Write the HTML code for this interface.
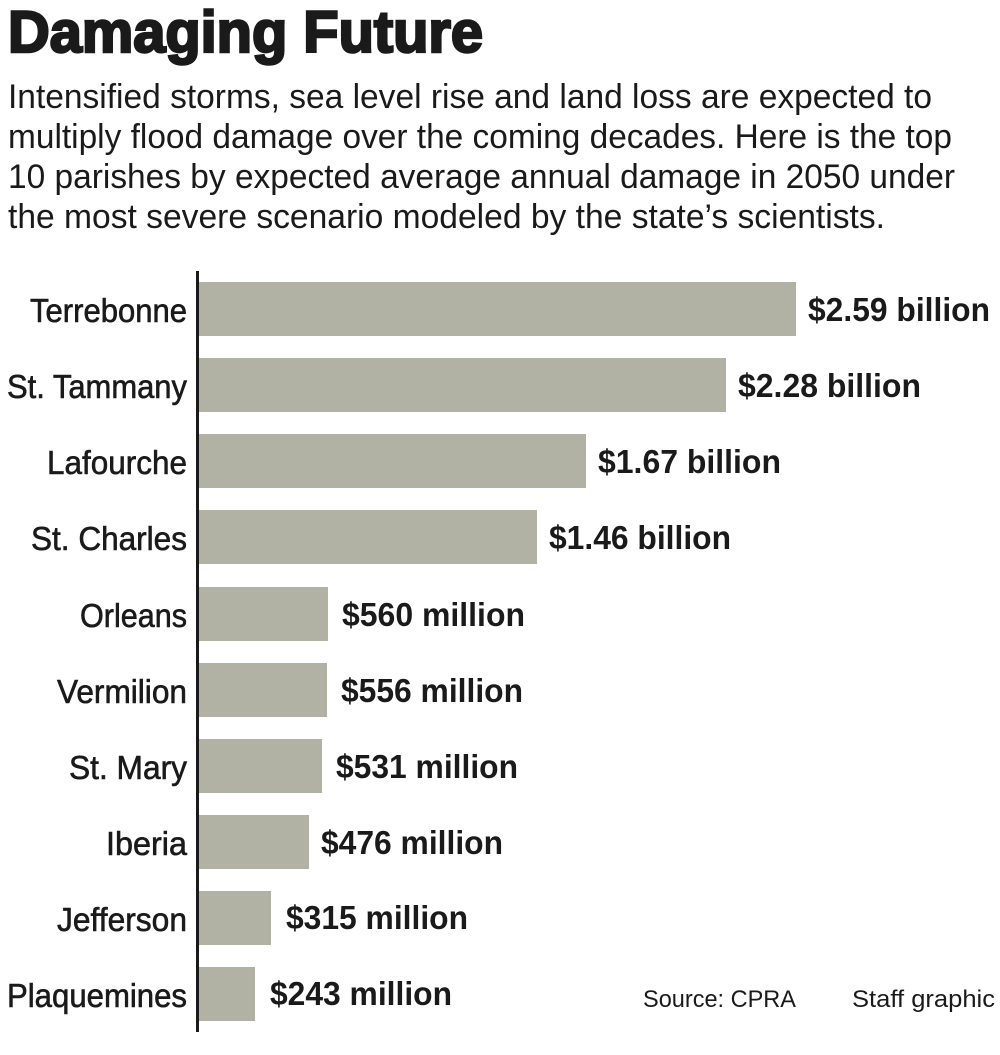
<!DOCTYPE html>
<html><head><meta charset="utf-8"><style>html,body{margin:0;padding:0;background:#fff}svg{display:block}</style></head>
<body>
<svg width="1000" height="1055" xmlns="http://www.w3.org/2000/svg" font-family="Liberation Sans, sans-serif" fill="#1a1a1a">
<text x="8" y="52" font-size="58" font-weight="bold" textLength="475" lengthAdjust="spacingAndGlyphs" stroke="#1a1a1a" stroke-width="2.5">Damaging Future</text>
<g font-size="34">
<text x="8" y="108" textLength="924" lengthAdjust="spacingAndGlyphs">Intensified storms, sea level rise and land loss are expected to</text>
<text x="8" y="148" textLength="944" lengthAdjust="spacingAndGlyphs">multiply flood damage over the coming decades. Here is the top</text>
<text x="8" y="188" textLength="947" lengthAdjust="spacingAndGlyphs">10 parishes by expected average annual damage in 2050 under</text>
<text x="8" y="228" textLength="877" lengthAdjust="spacingAndGlyphs">the most severe scenario modeled by the state’s scientists.</text>
</g>
<g fill="#b1b2a4">
<rect x="199" y="282" width="597" height="54"/>
<rect x="199" y="358" width="527" height="54"/>
<rect x="199" y="434" width="387" height="54"/>
<rect x="199" y="510" width="338" height="54"/>
<rect x="199" y="587" width="129" height="54"/>
<rect x="199" y="663" width="128" height="54"/>
<rect x="199" y="739" width="123" height="54"/>
<rect x="199" y="815" width="110" height="54"/>
<rect x="199" y="891" width="72" height="54"/>
<rect x="199" y="967" width="56" height="54"/>
</g>
<rect x="196" y="271" width="3" height="761" fill="#1a1a1a"/>
<g font-size="33" text-anchor="end" stroke="#1a1a1a" stroke-width="0.6" lengthAdjust="spacingAndGlyphs">
<text x="187" y="322" textLength="157" lengthAdjust="spacingAndGlyphs">Terrebonne</text>
<text x="187" y="398" textLength="180" lengthAdjust="spacingAndGlyphs">St. Tammany</text>
<text x="187" y="474" textLength="140" lengthAdjust="spacingAndGlyphs">Lafourche</text>
<text x="187" y="550" textLength="156" lengthAdjust="spacingAndGlyphs">St. Charles</text>
<text x="187" y="627" textLength="107" lengthAdjust="spacingAndGlyphs">Orleans</text>
<text x="187" y="703" textLength="130" lengthAdjust="spacingAndGlyphs">Vermilion</text>
<text x="187" y="779" textLength="118" lengthAdjust="spacingAndGlyphs">St. Mary</text>
<text x="187" y="855" textLength="81" lengthAdjust="spacingAndGlyphs">Iberia</text>
<text x="187" y="931" textLength="130" lengthAdjust="spacingAndGlyphs">Jefferson</text>
<text x="187" y="1007" textLength="180" lengthAdjust="spacingAndGlyphs">Plaquemines</text>
</g>
<g font-size="33" font-weight="bold">
<text x="808" y="321" textLength="182" lengthAdjust="spacingAndGlyphs">$2.59 billion</text>
<text x="738" y="397" textLength="183" lengthAdjust="spacingAndGlyphs">$2.28 billion</text>
<text x="598" y="473" textLength="183" lengthAdjust="spacingAndGlyphs">$1.67 billion</text>
<text x="549" y="549" textLength="182" lengthAdjust="spacingAndGlyphs">$1.46 billion</text>
<text x="342" y="626" textLength="183" lengthAdjust="spacingAndGlyphs">$560 million</text>
<text x="341" y="702" textLength="182" lengthAdjust="spacingAndGlyphs">$556 million</text>
<text x="336" y="778" textLength="182" lengthAdjust="spacingAndGlyphs">$531 million</text>
<text x="321" y="854" textLength="182" lengthAdjust="spacingAndGlyphs">$476 million</text>
<text x="286" y="929" textLength="182" lengthAdjust="spacingAndGlyphs">$315 million</text>
<text x="270" y="1005" textLength="182" lengthAdjust="spacingAndGlyphs">$243 million</text>
</g>
<g font-size="24">
<text x="643" y="1007" textLength="153" lengthAdjust="spacingAndGlyphs">Source: CPRA</text>
<text x="852" y="1007" textLength="143" lengthAdjust="spacingAndGlyphs">Staff graphic</text>
</g>
</svg>
</body></html>
